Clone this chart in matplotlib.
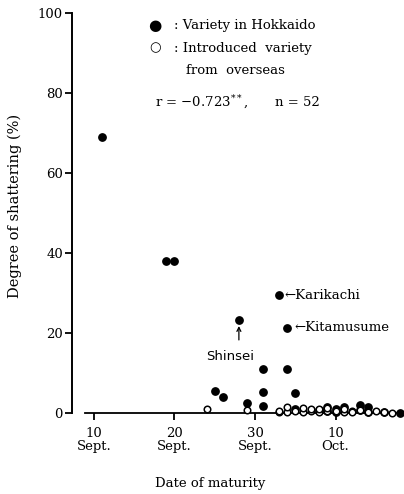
import matplotlib
matplotlib.use('Agg')
import matplotlib.pyplot as plt

# date of maturity as day counted from 1 Sept (10 Oct = 40)
hokkaido_day = [11, 19, 20, 28, 33, 34, 31, 34, 25, 26, 31, 35, 31, 29,
                35, 38, 39, 39, 40, 40, 41, 43, 43, 44, 44, 46, 48]
hokkaido_pct = [69, 38, 38, 23.3, 29.5, 21.3, 11.1, 11.1, 5.6, 3.9, 5.3, 4.9, 1.8, 2.6,
                1.0, 0.8, 1.5, 0.5, 1.0, 0.3, 1.5, 2.0, 0.8, 1.5, 0.3, 0.2, 0.0]
introduced_day = [24, 29, 33, 33, 34, 34, 35, 36, 36, 37, 37, 38, 38, 39,
                  39, 40, 41, 41, 42, 42, 43, 44, 45, 46, 47]
introduced_pct = [1.0, 0.8, 0.2, 0.5, 0.3, 1.5, 0.5, 0.3, 1.2, 0.5, 1.0, 0.3, 1.0, 0.5,
                  1.2, 0.4, 0.3, 1.0, 0.5, 0.2, 0.8, 0.3, 0.5, 0.2, 0.0]

x_ticks = [10, 20, 30, 40]
x_ticklabels = ['10\nSept.', '20\nSept.', '30\nSept.', '10\nOct.']
y_ticks = [0, 20, 40, 60, 80, 100]

plt.rcParams['font.family'] = ['DejaVu Serif']
plt.rcParams['mathtext.fontset'] = 'dejavuserif'
plt.rcParams['font.size'] = 9.5

fig = plt.figure(figsize=(4.04, 4.94), dpi=100)
ax = fig.add_axes([72 / 404, 81 / 494, 330 / 404, 400 / 494])

ax.scatter(hokkaido_day, hokkaido_pct, s=28, color='black', zorder=3, clip_on=False)
ax.scatter(introduced_day, introduced_pct, s=22, facecolor='white', edgecolor='black',
           linewidth=1.1, zorder=4, clip_on=False)

ax.set_xlim(7.27, 48.26)
ax.set_ylim(0, 100)
ax.spines['top'].set_visible(False)
ax.spines['right'].set_visible(False)
ax.spines['left'].set_linewidth(1.4)
ax.spines['bottom'].set_linewidth(1.3)
ax.spines['bottom'].set_bounds(8.9, 48.2)

ax.set_xticks(x_ticks)
ax.set_xticklabels(x_ticklabels, linespacing=1.0)
ax.set_yticks(y_ticks)
ax.tick_params(axis='both', direction='out', length=5, width=1.3)
ax.tick_params(axis='x', pad=5)
ax.tick_params(axis='y', pad=1.5)

ax.set_ylabel('Degree of shattering (%)', fontsize=10.5)
ax.yaxis.set_label_coords(-0.173, 0.5175)
ax.yaxis.label.set_verticalalignment('center')
ax.set_xlabel('Date of maturity')
ax.xaxis.set_label_coords(0.418, -0.175)
ax.xaxis.label.set_verticalalignment('center')

# legend-like key drawn as text
ax.text(0.252, 0.97, '●', transform=ax.transAxes, ha='center', va='center',
        fontsize=11, family=['DejaVu Sans'])
ax.text(0.252, 0.9125, '○', transform=ax.transAxes, ha='center', va='center',
        fontsize=9.5, family=['DejaVu Sans'])
ax.text(0.31, 0.97, ': Variety in Hokkaido', transform=ax.transAxes, va='center')
ax.text(0.31, 0.9125, ': Introduced  variety', transform=ax.transAxes, va='center')
ax.text(0.345, 0.8575, 'from  overseas', transform=ax.transAxes, va='center')
ax.text(0.252, 0.7775, 'r = −0.723$^{**}$,', transform=ax.transAxes, va='center')
ax.text(0.615, 0.7775, 'n = 52', transform=ax.transAxes, va='center')

# named cultivars
ax.annotate('←Karikachi', xy=(hokkaido_day[4], hokkaido_pct[4]), xytext=(3.5, 0),
            textcoords='offset points', ha='left', va='center')
ax.annotate('←Kitamusume', xy=(hokkaido_day[5], hokkaido_pct[5]), xytext=(5, 0),
            textcoords='offset points', ha='left', va='center')
ax.annotate('', xy=(hokkaido_day[3], hokkaido_pct[3]), xytext=(0, -14.5),
            textcoords='offset points',
            arrowprops=dict(arrowstyle='->,head_length=0.3,head_width=0.15',
                            lw=0.9, color='black', shrinkA=0, shrinkB=4.5))
ax.text(0.479, 0.1425, 'Shinsei', transform=ax.transAxes, ha='center', va='center',
        family=['DejaVu Sans'], fontsize=9.5)

fig.savefig('out.png', dpi=100)
